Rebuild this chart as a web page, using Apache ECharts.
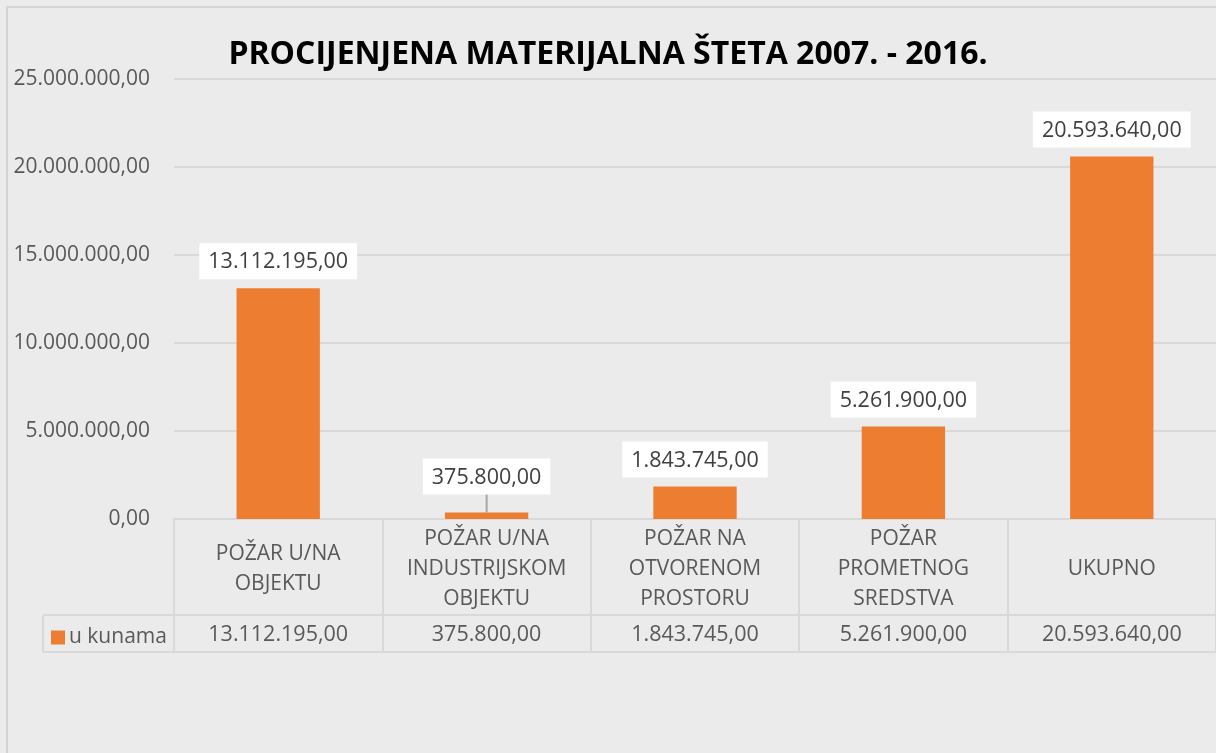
<!DOCTYPE html>
<html>
<head>
<meta charset="utf-8">
<script src="https://cdn.jsdelivr.net/npm/echarts@6/dist/echarts.min.js"></script>
<style>
  html, body { margin: 0; padding: 0; background: #ebebeb; }
  #chart { width: 1216px; height: 753px; }
</style>
</head>
<body>
<div id="chart"></div>
<script>
var categories = ['POŽAR U/NA\nOBJEKTU', 'POŽAR U/NA\nINDUSTRIJSKOM\nOBJEKTU', 'POŽAR NA\nOTVORENOM\nPROSTORU', 'POŽAR\nPROMETNOG\nSREDSTVA', 'UKUPNO'];
var values = [13112195, 375800, 1843745, 5261900, 20593640];
var seriesName = 'u kunama';
var titleText = 'PROCIJENJENA MATERIJALNA ŠTETA 2007. - 2016.';

// 25000000 -> "25.000.000,00"
function fmt(v) {
    var s = Math.round(v).toString().replace(/\B(?=(\d{3})+(?!\d))/g, '.');
    return s + ',00';
}

var FONT = 'Open Sans';
var TXT = '#595959';
var LINE = '#d9d9d9';

var chart = echarts.init(document.getElementById('chart'));

var barData = values.map(function (v, i) {
    if (i === 1) {
        return { value: v, labelLine: { show: true, lineStyle: { color: '#a6a6a6', width: 2 } } };
    }
    return v;
});

chart.setOption({
    backgroundColor: '#ebebeb',
    textStyle: { fontFamily: FONT },
    title: {
        text: titleText,
        left: 'center',
        top: 34,
        textStyle: { fontFamily: FONT, fontSize: 32, fontWeight: 'bold', color: '#000' }
    },
    legend: {
        left: 46,
        top: 622,
        icon: 'rect',
        itemWidth: 14,
        itemHeight: 14,
        itemGap: 4,
        textStyle: { fontFamily: FONT, fontSize: 21, color: TXT, padding: [0, 0, 0, -1] },
        data: [seriesName]
    },
    grid: { left: 174, right: 0, top: 79, bottom: 234, containLabel: false },
    yAxis: {
        type: 'value',
        min: 0,
        max: 25000000,
        interval: 5000000,
        axisLine: { show: false },
        axisTick: { show: false },
        splitLine: { lineStyle: { color: LINE, width: 2 } },
        axisLabel: {
            margin: 24,
            fontFamily: FONT,
            fontSize: 21,
            color: TXT,
            formatter: fmt
        }
    },
    xAxis: [{
        type: 'category',
        data: categories,
        axisLine: { lineStyle: { color: LINE, width: 2 } },
        axisTick: { show: true, length: 133, lineStyle: { color: LINE, width: 2 } },
        axisLabel: {
            margin: 50,
            verticalAlign: 'middle',
            fontFamily: FONT,
            fontSize: 21,
            lineHeight: 30,
            color: TXT,
            interval: 0
        }
    }, {
        type: 'category',
        data: categories,
        position: 'bottom',
        offset: 96,
        axisLine: { lineStyle: { color: LINE, width: 2 } },
        axisTick: { show: false },
        axisLabel: {
            margin: 20,
            verticalAlign: 'middle',
            fontFamily: FONT,
            fontSize: 21.5,
            color: TXT,
            interval: 0,
            formatter: function (v, i) { return fmt(values[i]); }
        }
    }],
    series: [{
        name: seriesName,
        type: 'bar',
        xAxisIndex: 0,
        data: barData,
        barWidth: '40%',
        itemStyle: { color: '#ed7d31' },
        label: {
            show: true,
            position: 'top',
            distance: 9,
            backgroundColor: '#ffffff',
            padding: [8, 9, 6, 9],
            fontFamily: FONT,
            fontSize: 21.5,
            color: '#404040',
            formatter: function (p) { return fmt(p.value); }
        },
        labelLayout: function (p) {
            if (p.dataIndex === 1) return { dy: -9 };
        }
    }],
    graphic: [
        // chart area border
        { type: 'rect', shape: { x: 7, y: 7, width: 1300, height: 800 }, style: { fill: null, stroke: '#d4d4d4', lineWidth: 2 }, silent: true },
        // legend cell of data table
        { type: 'line', shape: { x1: 43, y1: 615, x2: 174, y2: 615 }, style: { stroke: LINE, lineWidth: 2 }, silent: true },
        { type: 'line', shape: { x1: 43, y1: 652, x2: 1216, y2: 652 }, style: { stroke: LINE, lineWidth: 2 }, silent: true },
        { type: 'line', shape: { x1: 43, y1: 615, x2: 43, y2: 652 }, style: { stroke: LINE, lineWidth: 2 }, silent: true }
    ]
});
</script>
</body>
</html>
